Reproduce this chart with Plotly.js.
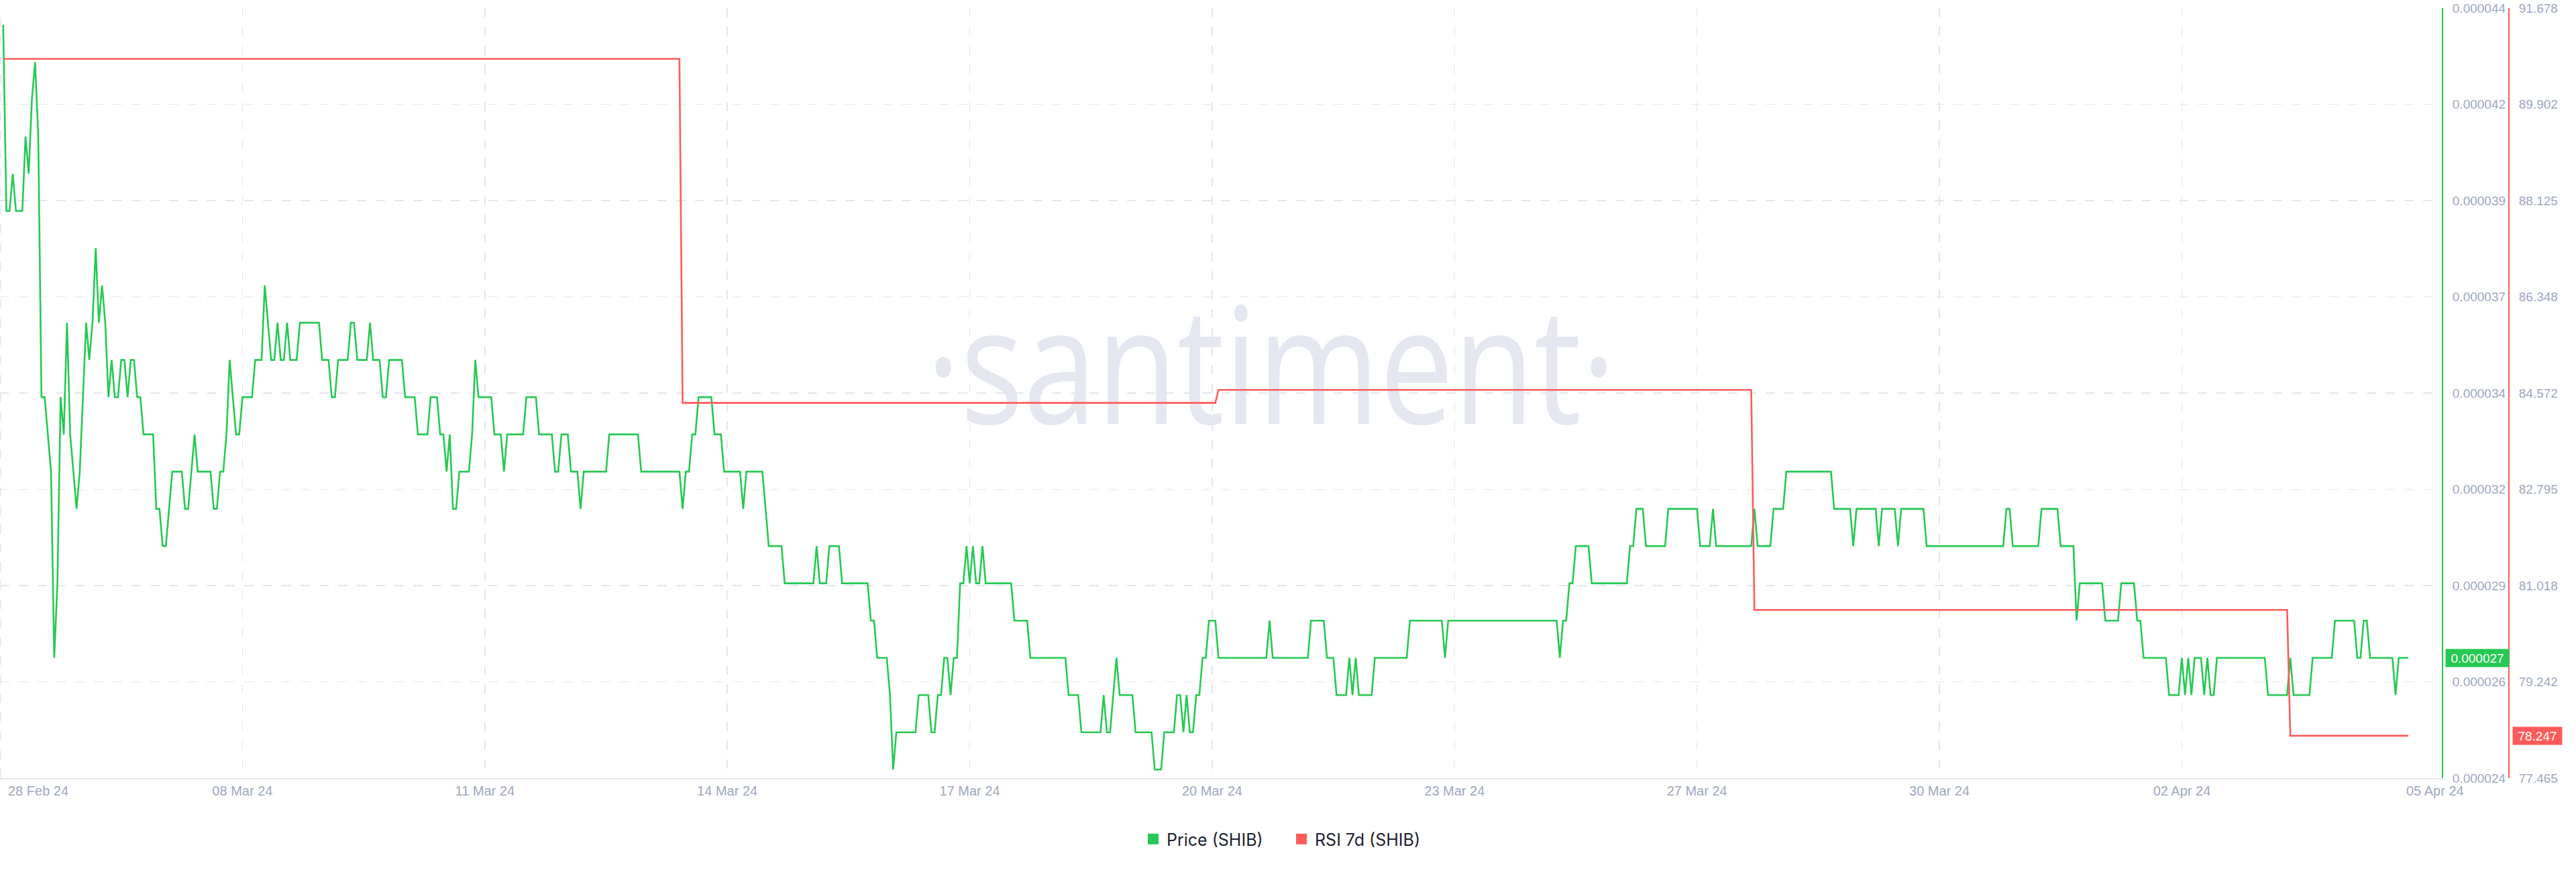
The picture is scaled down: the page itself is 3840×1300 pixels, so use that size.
<!DOCTYPE html>
<html>
<head>
<meta charset="utf-8">
<script src="https://cdn.plot.ly/plotly-3.0.1.min.js"></script>
<style>
html,body{margin:0;padding:0;background:#ffffff;}
#chart{width:3840px;height:1300px;}
</style>
</head>
<body>
<div id="chart"></div>
<script>
// ---------------- DATA ----------------
// hour index since first sample (hourly data); only the hours where the line turns are listed
const priceHours = [
  0,1,2,3,4,6,7,8,9,10,
  11,12,13,14,15,16,17,18,19,20,
  21,22,23,24,25,26,27,28,29,30,
  31,32,33,34,35,36,37,38,39,40,
  41,42,43,44,47,48,49,50,51,52,
  53,56,57,58,59,60,61,65,66,67,
  68,69,70,71,72,73,74,75,78,79,
  81,82,83,84,85,86,87,88,89,90,
  92,93,99,100,102,103,104,105,108,109,
  110,111,114,115,116,118,119,120,121,125,
  126,129,130,133,134,136,137,138,139,140,
  141,142,143,145,
  146,147,148,149,153,154,156,157,158,163,
  164,167,168,172,173,174,175,177,178,180,
  181,182,189,190,199,200,212,213,214,215,
  216,217,218,222,223,225,226,231,232,233,
  238,
  239,240,244,245,254,255,256,258,259,262,
  263,271,272,273,274,277,
  278,279,280,286,287,290,291,292,293,294,
  295,296,297,298,299,300,301,302,303,304,
  305,306,307,308,316,317,321,322,333,334,
  337,338,344,345,346,347,349,350,354,355,
  360,361,363,364,367,368,369,370,371,372,
  373,374,375,376,377,378,380,381,396,397,
  398,409,410,414,415,417,418,421,422,423,
  424,425,429,430,440,
  441,451,452,453,487,488,489,490,491,492,
  493,497,498,509,510,511,512,514,515,521,
  522,531,532,535,536,537,548,549,550,554,
  555,558,559,573,574,579,580,581,587,588,
  589,593,594,595,602,603,
  627,628,629,630,638,639,644,645,649,650,
  651,658,659,663,664,668,669,670,671,678,
  679,682,683,684,685,686,687,689,690,691,
  692,693,694,709,710,716,717,718,723,724,
  730,731,737,738,739,740,741,742,749,750,
  751,754
];
// Price (SHIB) in USD
const priceValues = [
  44e-6,39e-6,39e-6,40e-6,39e-6,39e-6,41e-6,40e-6,42e-6,43e-6,
  41e-6,34e-6,34e-6,33e-6,32e-6,27e-6,29e-6,34e-6,33e-6,36e-6,
  33e-6,32e-6,31e-6,32e-6,34e-6,36e-6,35e-6,36e-6,38e-6,36e-6,
  37e-6,36e-6,34e-6,35e-6,34e-6,34e-6,35e-6,35e-6,34e-6,35e-6,
  35e-6,34e-6,34e-6,33e-6,33e-6,31e-6,31e-6,30e-6,30e-6,31e-6,
  32e-6,32e-6,31e-6,31e-6,32e-6,33e-6,32e-6,32e-6,31e-6,31e-6,
  32e-6,32e-6,33e-6,35e-6,34e-6,33e-6,33e-6,34e-6,34e-6,35e-6,
  35e-6,37e-6,36e-6,35e-6,35e-6,36e-6,35e-6,35e-6,36e-6,35e-6,
  35e-6,36e-6,36e-6,35e-6,35e-6,34e-6,34e-6,35e-6,35e-6,36e-6,
  36e-6,35e-6,35e-6,36e-6,35e-6,35e-6,34e-6,34e-6,35e-6,35e-6,
  34e-6,34e-6,33e-6,33e-6,34e-6,34e-6,33e-6,33e-6,32e-6,33e-6,
  31e-6,31e-6,32e-6,32e-6,
  32e-6,33e-6,35e-6,34e-6,34e-6,33e-6,33e-6,32e-6,33e-6,33e-6,
  34e-6,34e-6,33e-6,33e-6,32e-6,32e-6,33e-6,33e-6,32e-6,32e-6,
  31e-6,32e-6,32e-6,33e-6,33e-6,32e-6,32e-6,31e-6,32e-6,32e-6,
  33e-6,33e-6,34e-6,34e-6,33e-6,33e-6,32e-6,32e-6,31e-6,32e-6,
  32e-6,
  31e-6,30e-6,30e-6,29e-6,29e-6,30e-6,29e-6,29e-6,30e-6,30e-6,
  29e-6,29e-6,28e-6,28e-6,27e-6,27e-6,
  26e-6,24e-6,25e-6,25e-6,26e-6,26e-6,25e-6,25e-6,26e-6,26e-6,
  27e-6,27e-6,26e-6,27e-6,27e-6,29e-6,29e-6,30e-6,29e-6,30e-6,
  29e-6,29e-6,30e-6,29e-6,29e-6,28e-6,28e-6,27e-6,27e-6,26e-6,
  26e-6,25e-6,25e-6,26e-6,25e-6,25e-6,27e-6,26e-6,26e-6,25e-6,
  25e-6,24e-6,24e-6,25e-6,25e-6,26e-6,26e-6,25e-6,26e-6,25e-6,
  25e-6,26e-6,26e-6,27e-6,27e-6,28e-6,28e-6,27e-6,27e-6,28e-6,
  27e-6,27e-6,28e-6,28e-6,27e-6,27e-6,26e-6,26e-6,27e-6,26e-6,
  27e-6,26e-6,26e-6,27e-6,27e-6,
  28e-6,28e-6,27e-6,28e-6,28e-6,27e-6,28e-6,28e-6,29e-6,29e-6,
  30e-6,30e-6,29e-6,29e-6,30e-6,30e-6,31e-6,31e-6,30e-6,30e-6,
  31e-6,31e-6,30e-6,30e-6,31e-6,30e-6,30e-6,31e-6,30e-6,30e-6,
  31e-6,31e-6,32e-6,32e-6,31e-6,31e-6,30e-6,31e-6,31e-6,30e-6,
  31e-6,31e-6,30e-6,31e-6,31e-6,30e-6,
  30e-6,31e-6,31e-6,30e-6,30e-6,31e-6,31e-6,30e-6,30e-6,28e-6,
  29e-6,29e-6,28e-6,28e-6,29e-6,29e-6,28e-6,28e-6,27e-6,27e-6,
  26e-6,26e-6,27e-6,26e-6,27e-6,26e-6,27e-6,27e-6,26e-6,27e-6,
  26e-6,26e-6,27e-6,27e-6,26e-6,26e-6,27e-6,26e-6,26e-6,27e-6,
  27e-6,28e-6,28e-6,27e-6,27e-6,28e-6,28e-6,27e-6,27e-6,26e-6,
  27e-6,27e-6
];
// RSI 7d (SHIB): steps once a week
const rsiHours  = [0, 212, 213, 380, 381, 548, 549, 716, 717, 754];
const rsiValues = [90.74, 90.74, 84.39, 84.39, 84.63, 84.63, 80.57, 80.57, 78.247, 78.247];

const xTickLabels = ['28 Feb 24','08 Mar 24','11 Mar 24','14 Mar 24','17 Mar 24','20 Mar 24',
                     '23 Mar 24','27 Mar 24','30 Mar 24','02 Apr 24','05 Apr 24'];
const xTickHours  = [-1, 75, 151, 227, 303, 379, 455, 531, 607, 683, 762];
const priceTickLabels = ['0.000024','0.000026','0.000029','0.000032','0.000034',
                         '0.000037','0.000039','0.000042','0.000044'];
const rsiTickLabels = ['77.465','79.242','81.018','82.795','84.572','86.348','88.125','89.902','91.678'];
const seriesNames = ['Price (SHIB)', 'RSI 7d (SHIB)'];

// ---------------- STYLE / LAYOUT ----------------
const W = 3840, H = 1300;
const PLOT_RIGHT = 3640, RSI_AXIS_X = 3740;
const GREEN = '#26c953', RED = '#ff5b5b';
const GRID = '#e3e6f0', TICK = '#9ea7c0';
const priceRange = [23.77e-6, 44.45e-6];
const rsiRange = [77.465, 91.678];
const nTicks = priceTickLabels.length;
const priceTickVals = priceTickLabels.map((_, i) => priceRange[0] + i * (priceRange[1] - priceRange[0]) / (nTicks - 1));
const rsiTickVals = rsiTickLabels.map(Number);
const tickFont = {family: 'Liberation Sans, Arial, sans-serif', size: 19, color: TICK};
const WM_BOX = {left: 1394, right: 2395, top: 453, bottom: 634};   // watermark ink box (px)

const traces = [
  {type: 'scatter', mode: 'lines', x: priceHours, y: priceValues, xaxis: 'x', yaxis: 'y',
   line: {color: GREEN, width: 2.6}, showlegend: false, hoverinfo: 'skip', name: seriesNames[0]},
  {type: 'scatter', mode: 'lines', x: rsiHours, y: rsiValues, xaxis: 'x', yaxis: 'y2',
   line: {color: RED, width: 2.6}, showlegend: false, hoverinfo: 'skip', name: seriesNames[1]},
  // legend entries (square swatches)
  {type: 'scatter', mode: 'markers', x: [null], y: [null], name: seriesNames[0],
   marker: {symbol: 'square', size: 17, color: GREEN}, hoverinfo: 'skip'},
  {type: 'scatter', mode: 'markers', x: [null], y: [null], name: seriesNames[1], yaxis: 'y2',
   marker: {symbol: 'square', size: 17, color: RED}, hoverinfo: 'skip'}
];

const lastPrice = priceValues[priceValues.length - 1];
const lastRsi = rsiValues[rsiValues.length - 1];

const layout = {
  width: W, height: H,
  margin: {l: 0, r: 0, t: 12, b: 140, pad: 0, autoexpand: false},
  paper_bgcolor: '#ffffff', plot_bgcolor: '#ffffff',
  hovermode: false,
  showlegend: true,
  legend: {orientation: 'h', x: 0.5, xanchor: 'center', y: -0.0793, yanchor: 'middle',
           entrywidth: 176, entrywidthmode: 'pixels',
           font: {family: 'Inter, Liberation Sans, sans-serif', size: 25, color: '#1c1f30'},
           bgcolor: 'rgba(0,0,0,0)', traceorder: 'normal'},
  xaxis: {
    domain: [0, PLOT_RIGHT / W], range: [-1, 764.5],
    tickvals: xTickHours.slice(1, 10), ticktext: xTickLabels.slice(1, 10),
    showgrid: true, gridcolor: GRID, gridwidth: 1.5, griddash: '14px,14px',
    showline: true, linecolor: '#e2e6ef', linewidth: 2, zeroline: false,
    ticks: '', tickfont: {family: 'Liberation Sans, Arial, sans-serif', size: 20, color: TICK},
    ticklabelstandoff: 0, automargin: false, fixedrange: true
  },
  yaxis: {
    range: priceRange, side: 'right', anchor: 'x',
    tickvals: priceTickVals, ticktext: priceTickLabels,
    showgrid: true, gridcolor: GRID, gridwidth: 1.5, griddash: '14px,14px',
    showline: true, linecolor: GREEN, linewidth: 2, zeroline: false,
    ticks: '', tickfont: tickFont, ticklabelstandoff: 10, automargin: false, fixedrange: true
  },
  yaxis2: {
    range: rsiRange, side: 'right', overlaying: 'y', anchor: 'free', position: RSI_AXIS_X / W,
    tickvals: rsiTickVals, ticktext: rsiTickLabels,
    showgrid: false, showline: true, linecolor: RED, linewidth: 2, zeroline: false,
    ticks: '', tickfont: tickFont, ticklabelstandoff: 10, automargin: false, fixedrange: true
  },
  shapes: [
    // watermark (drawn below the lines)
    {type: 'rect', xref: 'paper', yref: 'paper', layer: 'below',
     x0: WM_BOX.left / W, x1: WM_BOX.right / W, y0: 0.50, y1: 0.58,
     line: {width: 0}, fillcolor: 'rgba(0,0,0,0)',
     label: {text: '·santiment·', textposition: 'middle center',
             font: {family: 'Open Sans, Noto Sans, sans-serif', size: 240, color: '#e5e7f1'}}},
    // left-edge dashed grid line
    {type: 'line', xref: 'x', yref: 'paper', x0: xTickHours[0] + 0.2, x1: xTickHours[0] + 0.2, y0: 0, y1: 1,
     layer: 'below', line: {color: GRID, width: 1.5, dash: '14px,14px'}}
  ],
  annotations: [
    {xref: 'paper', yref: 'paper', x: 10 / W, y: -0.0166, xanchor: 'left', yanchor: 'middle',
     text: xTickLabels[0], showarrow: false,
     font: {family: 'Liberation Sans, Arial, sans-serif', size: 20, color: TICK}},
    {xref: 'paper', yref: 'paper', x: 3630 / W, y: -0.0166, xanchor: 'center', yanchor: 'middle',
     text: xTickLabels[10], showarrow: false,
     font: {family: 'Liberation Sans, Arial, sans-serif', size: 20, color: TICK}},
    {xref: 'paper', yref: 'y', x: 3693 / W, y: lastPrice, xanchor: 'center', yanchor: 'middle',
     text: lastPrice.toFixed(6), showarrow: false, bgcolor: GREEN, width: 92, height: 24, borderpad: 1,
     font: {family: 'Liberation Sans, Arial, sans-serif', size: 19, color: '#ffffff'}},
    {xref: 'paper', yref: 'y2', x: 3782.5 / W, y: lastRsi, xanchor: 'center', yanchor: 'middle',
     text: lastRsi.toFixed(3), showarrow: false, bgcolor: RED, width: 71, height: 24, borderpad: 1,
     font: {family: 'Liberation Sans, Arial, sans-serif', size: 19, color: '#ffffff'}}
  ]
};

const gd = document.getElementById('chart');
Plotly.newPlot(gd, traces, layout, {displayModeBar: false, staticPlot: true, responsive: false}).then(() => {
  // fit the watermark's ink box to the reference footprint (it is a stretched logo there)
  const t = gd.querySelector('.shapelayer text');
  if (!t) return;
  const cs = getComputedStyle(t);
  const size = parseFloat(cs.fontSize);
  const ctx = document.createElement('canvas').getContext('2d');
  ctx.font = `${cs.fontStyle} ${cs.fontWeight} ${size}px ${cs.fontFamily}`;
  const m = ctx.measureText(t.textContent);
  const r = t.getBoundingClientRect();
  const asc = (m.fontBoundingBoxAscent !== undefined) ? m.fontBoundingBoxAscent : size * 1.069;
  const base = r.top + asc;
  const inkL = r.left - m.actualBoundingBoxLeft;
  const inkR = r.left + m.actualBoundingBoxRight;
  const inkT = base - m.actualBoundingBoxAscent;
  const inkB = base + m.actualBoundingBoxDescent;
  if (!(inkR > inkL) || !(inkB > inkT)) return;
  const sx = (WM_BOX.right - WM_BOX.left) / (inkR - inkL);
  const sy = (WM_BOX.bottom - WM_BOX.top) / (inkB - inkT);
  t.setAttribute('transform',
    `translate(${WM_BOX.left},${WM_BOX.top}) scale(${sx},${sy}) translate(${-inkL},${-inkT})`);
});
</script>
</body>
</html>
